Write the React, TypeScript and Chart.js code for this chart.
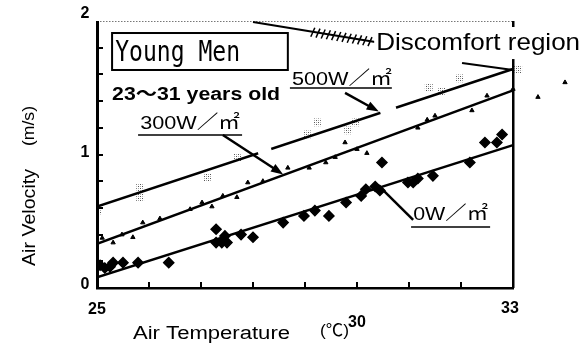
import React, { useEffect, useRef } from "react";
import { Chart, registerables } from "chart.js";
Chart.register(...registerables);

// ---- data ----
const xTickLabels = [25, 30, 33];
const yTickLabels = [0, 1, 2];

const temp0W = [25.06, 25.15, 25.25, 25.31, 25.5, 25.79, 26.38, 27.29, 27.29, 27.4, 27.5, 27.46, 27.77, 28.0, 28.58, 28.98, 29.19, 29.46, 29.79, 30.08, 30.17, 30.35, 30.44, 30.48, 30.98, 31.08, 31.17, 31.46, 32.17, 32.46, 32.69, 32.79];
const vel0W = [0.17, 0.15, 0.16, 0.19, 0.19, 0.19, 0.19, 0.44, 0.34, 0.34, 0.34, 0.39, 0.40, 0.38, 0.49, 0.54, 0.58, 0.54, 0.64, 0.69, 0.74, 0.76, 0.73, 0.94, 0.79, 0.79, 0.82, 0.84, 0.94, 1.09, 1.09, 1.15];

const temp300W = [25.10, 25.31, 25.48, 25.69, 25.88, 26.21, 26.79, 27.02, 27.21, 27.42, 27.69, 27.90, 28.19, 28.67, 29.08, 29.40, 29.58, 29.77, 30.0, 30.19, 31.17, 31.35, 31.5, 32.21, 32.5, 33.0, 33.48, 34.0];
const vel300W = [0.375, 0.34, 0.40, 0.38, 0.49, 0.52, 0.59, 0.64, 0.61, 0.69, 0.68, 0.79, 0.80, 0.90, 0.90, 0.94, 0.98, 1.09, 1.04, 1.01, 1.20, 1.26, 1.29, 1.33, 1.44, 1.49, 1.43, 1.54];

const temp500W = [25.02, 25.83, 25.83, 27.12, 27.71, 29.04, 29.23, 29.83, 29.98, 31.38, 31.63, 31.98, 33.1];
const vel500W = [0.58, 0.75, 0.68, 0.83, 0.98, 1.15, 1.24, 1.18, 1.24, 1.50, 1.47, 1.57, 1.64];

// regression lines (endpoints)
const lineTemps = [25, 33];
const line0W = [0.08, 1.07];
const line300W = [0.33, 1.48];
const line500W = [0.61, 1.64];

// discomfort boundary
const discomfortTemps = [28.0, 30.35];
const discomfortVels = [1.993, 1.843];
const discomfort2Temps = [32.02, 33.0];
const discomfort2Vels = [1.685, 1.633];

// axis range (x axis frame ends at 33, scale runs on so outlying points still draw)
const X_MIN = 25;
const X_FRAME_MAX = 33;
const X_SCALE_MAX = 34.2;

const FONT = "'Liberation Sans', 'Noto Sans CJK JP', sans-serif";

function toPts(xs: number[], ys: number[]) {
  return xs.map((x, i) => ({ x, y: ys[i] }));
}

function makeStipple(): any {
  const c = document.createElement("canvas");
  c.width = 4;
  c.height = 4;
  const g = c.getContext("2d")!;
  g.fillStyle = "#ffffff";
  g.fillRect(0, 0, 4, 4);
  g.fillStyle = "#555";
  g.fillRect(0, 0, 1, 1);
  g.fillRect(2, 2, 1, 1);
  g.fillStyle = "#aaa";
  g.fillRect(2, 0, 1, 1);
  g.fillRect(0, 2, 1, 1);
  return g.createPattern(c, "repeat");
}

function fitText(ctx: CanvasRenderingContext2D, text: string, x: number, y: number, w: number, font: string) {
  ctx.save();
  ctx.font = font;
  const m = ctx.measureText(text).width;
  ctx.translate(x, y);
  ctx.scale(w / m, 1);
  ctx.textAlign = "left";
  ctx.textBaseline = "middle";
  ctx.fillStyle = "#000";
  ctx.fillText(text, 0, 0);
  ctx.restore();
}

function arrow(ctx: CanvasRenderingContext2D, x1: number, y1: number, x2: number, y2: number, head: number) {
  const a = Math.atan2(y2 - y1, x2 - x1);
  ctx.beginPath();
  ctx.moveTo(x1, y1);
  ctx.lineTo(x2 - Math.cos(a) * head * 0.8, y2 - Math.sin(a) * head * 0.8);
  ctx.stroke();
  ctx.beginPath();
  ctx.moveTo(x2, y2);
  ctx.lineTo(x2 - Math.cos(a - 0.35) * head, y2 - Math.sin(a - 0.35) * head);
  ctx.lineTo(x2 - Math.cos(a + 0.35) * head, y2 - Math.sin(a + 0.35) * head);
  ctx.closePath();
  ctx.fill();
}

function line(ctx: CanvasRenderingContext2D, x1: number, y1: number, x2: number, y2: number) {
  ctx.beginPath();
  ctx.moveTo(x1, y1);
  ctx.lineTo(x2, y2);
  ctx.stroke();
}

const framePlugin = {
  id: "frame",
  afterDraw(chart: any) {
    const ctx: CanvasRenderingContext2D = chart.ctx;
    const xs = chart.scales.x;
    const ys = chart.scales.y;
    const X = (t: number) => xs.getPixelForValue(t);
    const Y = (v: number) => ys.getPixelForValue(v);
    const left = Math.round(X(X_MIN));
    const right = Math.round(X(X_FRAME_MAX));
    const top = Math.round(Y(2));
    const bottom = Math.round(Y(0));
    ctx.save();

    // top border (light dotted)
    ctx.fillStyle = "#777";
    for (let x = left; x < right; x += 3) ctx.fillRect(x, top, 1.5, 1);
    ctx.fillStyle = "#000";
    // right border
    ctx.fillRect(right - 1, top, 2.5, bottom - top);
    // left axis
    ctx.fillRect(left - 1, top, 3, bottom - top + 1);
    // bottom axis
    ctx.fillRect(left - 1, bottom - 1, right - left + 2, 2.5);
    // ticks
    for (let i = 1; i < 10; i++) {
      const y = Math.round(Y(i * 0.2));
      ctx.fillRect(left, y - 1, 6, 2);
    }
    for (let t = 26; t < 33; t += 1) {
      const x = Math.round(X(t));
      ctx.fillRect(x - 1, bottom - 6, 2, 6);
    }

    // tick labels
    ctx.font = `bold 16px ${FONT}`;
    ctx.textAlign = "center";
    ctx.textBaseline = "middle";
    const yOff: Record<number, number> = { 0: -3, 1: -2, 2: -7 };
    yTickLabels.forEach((v) => ctx.fillText(String(v), left - 12, Y(v) + yOff[v]));
    const xOff: Record<number, number> = { 25: 22, 30: 35, 33: 21 };
    xTickLabels.forEach((t) => ctx.fillText(String(t), X(t) - (t === 33 ? 3 : 0), bottom + xOff[t]));

    // axis titles
    fitText(ctx, "Air Temperature", 133, 334, 157, `18px ${FONT}`);
    fitText(ctx, "(℃)", 320, 331, 29, `17px ${FONT}`);
    ctx.save();
    ctx.translate(30, 266);
    ctx.rotate(-Math.PI / 2);
    fitText(ctx, "Air Velocity", 0, 0, 97, `18px ${FONT}`);
    ctx.restore();
    ctx.save();
    ctx.translate(30, 146);
    ctx.rotate(-Math.PI / 2);
    fitText(ctx, "(m/s)", 0, 0, 40, `16px ${FONT}`);
    ctx.restore();

    // gaps in 500W line
    const lineAt = (t: number) => line500W[0] + ((line500W[1] - line500W[0]) * (t - lineTemps[0])) / (lineTemps[1] - lineTemps[0]);
    ctx.strokeStyle = "#fff";
    ctx.lineWidth = 5;
    [[28.1, 28.35], [30.45, 30.75]].forEach(([a, b]) => {
      line(ctx, X(a), Y(lineAt(a)), X(b), Y(lineAt(b)));
    });
    ctx.strokeStyle = "#000";
    ctx.fillStyle = "#000";

    // Young Men box
    ctx.lineWidth = 2;
    ctx.strokeRect(X(25.29), Y(1.91), X(28.67) - X(25.29), Y(1.633) - Y(1.91));
    fitText(ctx, "Young Men", X(25.35), Y(1.755), X(27.75) - X(25.35), `28px 'DejaVu Sans Mono', monospace`);
    fitText(ctx, "23～31 years old", X(25.29), Y(1.446), X(28.52) - X(25.29), `bold 18px ${FONT}`);

    // 500W label
    fitText(ctx, "500W／㎡", X(28.75), Y(1.56), X(30.67) - X(28.75), `19px ${FONT}`);
    ctx.lineWidth = 1.5;
    line(ctx, X(28.71), Y(1.498), X(30.67), Y(1.498));
    ctx.lineWidth = 2.5;
    arrow(ctx, X(29.77), Y(1.461), X(30.42), Y(1.322), 13);

    // 300W label
    fitText(ctx, "300W／㎡", X(25.83), Y(1.23), X(27.75) - X(25.83), `19px ${FONT}`);
    ctx.lineWidth = 1.5;
    line(ctx, X(25.79), Y(1.146), X(27.79), Y(1.146));
    ctx.lineWidth = 2.5;
    arrow(ctx, X(27.42), Y(1.146), X(28.58), Y(0.85), 13);

    // 0W label
    fitText(ctx, "0W／㎡", X(31.08), Y(0.55), X(32.52) - X(31.08), `19px ${FONT}`);
    ctx.lineWidth = 1.5;
    line(ctx, X(31.04), Y(0.457), X(32.56), Y(0.457));
    ctx.lineWidth = 2.5;
    line(ctx, X(31.08), Y(0.51), X(30.4), Y(0.772));

    // discomfort boundary
    ctx.lineWidth = 2;
    line(ctx, X(discomfortTemps[0]), Y(discomfortVels[0]), X(discomfortTemps[1]), Y(discomfortVels[1]));
    const dAt = (t: number) => discomfortVels[0] + ((discomfortVels[1] - discomfortVels[0]) * (t - discomfortTemps[0])) / (discomfortTemps[1] - discomfortTemps[0]);
    ctx.lineWidth = 1.5;
    for (let t = 29.15; t <= 30.3; t += 0.1) {
      const x = X(t);
      const y = Y(dAt(t));
      line(ctx, x + 2, y - 4, x - 2, y + 5);
    }
    ctx.lineWidth = 2;
    line(ctx, X(discomfort2Temps[0]), Y(discomfort2Vels[0]), X(discomfort2Temps[1]), Y(discomfort2Vels[1]));

    // Discomfort region label
    ctx.fillStyle = "#fff";
    ctx.fillRect(X(30.33), Y(1.955), X(34.35) - X(30.33), Y(1.715) - Y(1.955));
    fitText(ctx, "Discomfort region", X(30.37), Y(1.835), X(34.29) - X(30.37), `24px ${FONT}`);

    ctx.restore();
  },
};

export default function App() {
  const ref = useRef<HTMLCanvasElement>(null);
  useEffect(() => {
    if (!ref.current) return;
    const stipple = makeStipple();
    const lineDs = (vals: number[]) =>
      ({
        type: "line",
        data: toPts(lineTemps, vals),
        borderColor: "#000",
        borderWidth: 2.5,
        pointRadius: 0,
        fill: false,
      } as any);
    // chart area: x from 97px (25) with 52px per degree; top 21px (2) to bottom 288px (0)
    const rightPad = 586 - (97 + (X_SCALE_MAX - X_MIN) * 52);
    const chart = new Chart(ref.current, {
      type: "scatter",
      data: {
        datasets: [
          lineDs(line500W),
          lineDs(line300W),
          lineDs(line0W),
          {
            label: "500W/㎡",
            data: toPts(temp500W, vel500W),
            pointStyle: "rect",
            pointRadius: 5.5,
            backgroundColor: stipple,
            borderWidth: 0,
          } as any,
          {
            label: "300W/㎡",
            data: toPts(temp300W, vel300W),
            pointStyle: "triangle",
            pointRadius: 2.5,
            backgroundColor: "#000",
            borderColor: "#000",
            borderWidth: 1,
          } as any,
          {
            label: "0W/㎡",
            data: toPts(temp0W, vel0W),
            pointStyle: "rectRot",
            pointRadius: 5,
            backgroundColor: "#000",
            borderColor: "#000",
            borderWidth: 1.5,
          } as any,
        ],
      },
      options: {
        animation: false,
        responsive: true,
        maintainAspectRatio: false,
        layout: { padding: { left: 97, right: rightPad, top: 21, bottom: 61 } },
        plugins: { legend: { display: false }, tooltip: { enabled: false } },
        scales: {
          x: { type: "linear", min: X_MIN, max: X_SCALE_MAX, display: false },
          y: { type: "linear", min: 0, max: 2, display: false },
        },
      },
      plugins: [framePlugin],
    });
    return () => chart.destroy();
  }, []);
  return (
    <div style={{ position: "fixed", left: 0, top: 0, width: 586, height: 349, background: "#fff" }}>
      <canvas ref={ref} />
    </div>
  );
}
